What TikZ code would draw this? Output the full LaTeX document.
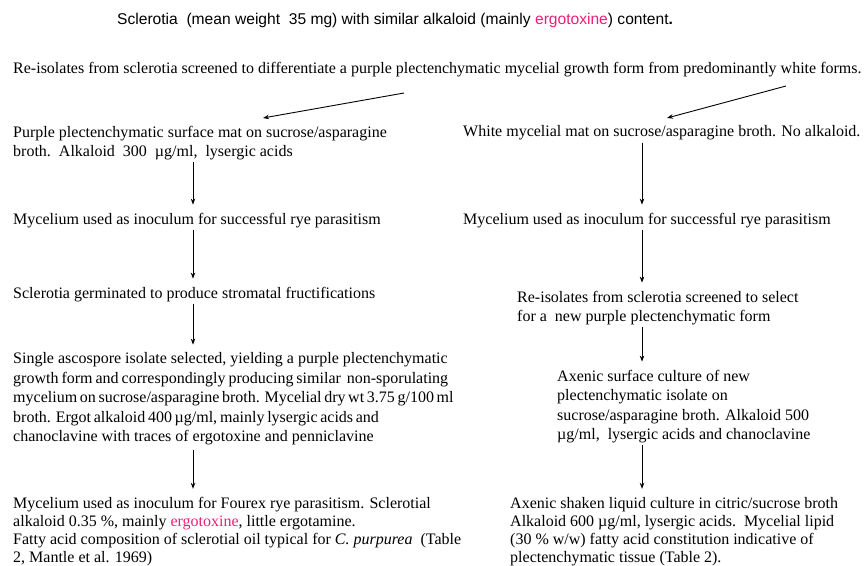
\documentclass[tikz,border=0pt]{standalone}
\usepackage{fontspec}
\setmainfont{Liberation Serif}
\newfontfamily\arialf{Liberation Sans}
\usetikzlibrary{arrows.meta}
\definecolor{pinkx}{RGB}{236,30,120}
\begin{document}
\begin{tikzpicture}[x=1pt,y=-1pt,
  txt/.style={anchor=north west, inner sep=0pt, align=left, font=\fontsize{16}{19.5}\selectfont},
  txtb/.style={txt, font=\fontsize{16}{18.2}\selectfont},
  arr/.style={-{Stealth[length=6pt,width=4.5pt]}, line width=0.9pt}]
\useasboundingbox (0,0) rectangle (866,565);
\coordinate (lx) at (193,0);
\coordinate (rx) at (642,0);

\node[anchor=base west, inner sep=0pt, font=\arialf\fontsize{15.6}{18}\selectfont] (title) at (117,24.5)
  {Sclerotia\ \ (mean weight\ \ 35 mg) with similar alkaloid (mainly \textcolor{pinkx}{ergotoxine}) content\textbf{.}};

\node[anchor=base west, inner sep=0pt, font=\fontsize{16}{19.5}\selectfont] (reiso) at (13,73)
  {Re-isolates from sclerotia screened to differentiate a purple plectenchymatic mycelial growth form from predominantly white forms.};

\node[txt] (L1) at (13,125.6) {Purple plectenchymatic surface mat on sucrose/asparagine\\broth.\ \ Alkaloid\ \ 300\ \ µg/ml,\ \ lysergic acids};
\node[txt] (R1) at (463,125.6) {White mycelial mat on sucrose/asparagine broth. No alkaloid.};
\node[txt] (L2) at (13,212.6) {Mycelium used as inoculum for successful rye parasitism};
\node[txt] (R2) at (463,212.6) {Mycelium used as inoculum for successful rye parasitism};
\node[txt] (L3) at (13,286.6) {Sclerotia germinated to produce stromatal fructifications};
\node[txt] (R3) at (517,290.6) {Re-isolates from sclerotia screened to select\\for a\ \ new purple plectenchymatic form};
\node[txt] (L4) at (13,352.6) {Single ascospore isolate selected, yielding a purple plectenchymatic\\\makebox[435pt][s]{growth form and correspondingly producing similar\ \ non-sporulating}\\\makebox[435pt][s]{mycelium on sucrose/asparagine broth. Mycelial dry wt 3.75 g/100 ml}\\\makebox[362pt][s]{broth. Ergot alkaloid 400 µg/ml, mainly lysergic acids and}\\chanoclavine with traces of ergotoxine and penniclavine};
\node[txt] (R4) at (557,369.6) {Axenic surface culture of new\\plectenchymatic isolate on\\sucrose/asparagine broth. Alkaloid 500\\µg/ml,\ \ lysergic acids and chanoclavine};
\node[txtb] (L5) at (13,496.8) {Mycelium used as inoculum for Fourex rye parasitism. Sclerotial\\alkaloid 0.35 \%, mainly \textcolor{pinkx}{ergotoxine}, little ergotamine.\\Fatty acid composition of sclerotial oil typical for \textit{C. purpurea}\ \ (Table\\2, Mantle et al. 1969)};
\node[txtb] (R5) at (510,496.8) {Axenic shaken liquid culture in citric/sucrose broth\\Alkaloid 600 µg/ml, lysergic acids.\ \ Mycelial lipid\\(30 \% w/w) fatty acid constitution indicative of\\plectenchymatic tissue (Table 2).};

\coordinate (dl1) at (404,93);
\coordinate (dl2) at (263,118);
\coordinate (dr1) at (786,86);
\coordinate (dr2) at (667,118);
\draw[arr] (dl1) -- (dl2);
\draw[arr] (dr1) -- (dr2);

\draw[arr, shorten <=2pt, shorten >=8pt] (L1.south -| lx) -- (L2.north -| lx);
\draw[arr, shorten <=2pt, shorten >=8pt] (L2.south -| lx) -- (L3.north -| lx);
\draw[arr, shorten <=2pt, shorten >=8pt] (L3.south -| lx) -- (L4.north -| lx);
\draw[arr, shorten <=4pt, shorten >=8pt] (L4.south -| lx) -- (L5.north -| lx);
\draw[arr, shorten <=2pt, shorten >=8pt] (R1.south -| rx) -- (R2.north -| rx);
\draw[arr, shorten <=2pt, shorten >=8pt] (R2.south -| rx) -- (R3.north -| rx);
\draw[arr, shorten <=2pt, shorten >=8pt] (R3.south -| rx) -- (R4.north -| rx);
\draw[arr, shorten <=2pt, shorten >=8pt] (R4.south -| rx) -- (R5.north -| rx);
\end{tikzpicture}
\end{document}
